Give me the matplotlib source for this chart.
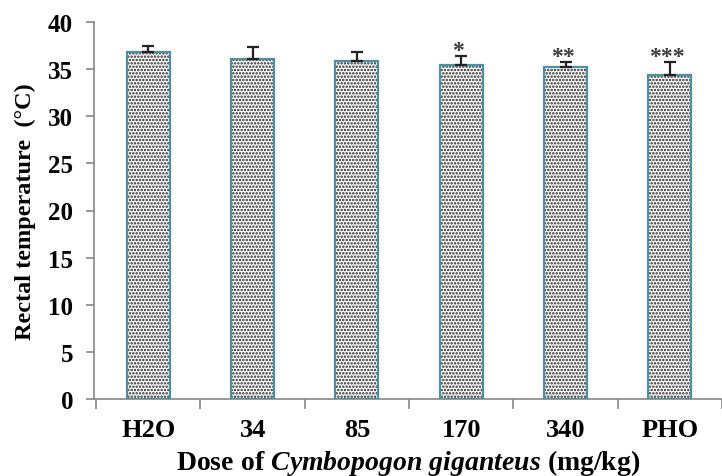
import matplotlib
matplotlib.use('Agg')
import numpy as np
import matplotlib.pyplot as plt

# data
doses = ['H2O', '34', '85', '170', '340', 'PHO']
temps = [36.8, 36.1, 35.9, 35.4, 35.25, 34.4]
errs = [0.7, 1.2, 0.9, 1.0, 0.55, 1.4]
stars = ['', '', '', '*', '**', '***']

plt.rcParams['font.family'] = 'Liberation Serif'
plt.rcParams['font.weight'] = 'bold'
plt.rcParams['mathtext.fontset'] = 'custom'
plt.rcParams['mathtext.rm'] = 'Liberation Serif:bold'
plt.rcParams['mathtext.bf'] = 'Liberation Serif:bold'
plt.rcParams['mathtext.it'] = 'Liberation Serif:italic:bold'
plt.rcParams['hatch.linewidth'] = 1.2

fig = plt.figure(figsize=(7.22, 4.77), dpi=100)
ax = fig.add_axes([94 / 722, 77 / 477, (722 - 94) / 722, 377 / 477])

x = np.arange(len(doses))
w = 0.41

# dotted fill
ax.bar(x, temps, w, color='white', edgecolor='#222222', hatch='.....', linewidth=0, zorder=2)
# teal outline
ax.bar(x, temps, w, fill=False, edgecolor='#4f8fa0', linewidth=1.6, zorder=3)

# one-sided error bars
ax.errorbar(x, temps, yerr=[np.zeros(len(errs)), errs], fmt='none', ecolor='#222222',
            elinewidth=1.6, capsize=4, capthick=1.6, zorder=4)

for xi, t, e, s in zip(x, temps, errs, stars):
    if s:
        ax.text(xi - 0.03, t + e + 0.55, s, ha='center', va='center', fontsize=17,
                color='#3a3a3a')

ax.set_ylim(0, 40)
ax.set_yticks(range(0, 41, 5))
ax.set_xlim(-0.52, 5.43)
ax.set_xticks(x)
ax.set_xticklabels(doses)
ax.set_xticks(np.arange(-0.5, 6, 1), minor=True)
ax.tick_params(axis='x', which='major', length=0, pad=14, labelsize=19)
ax.tick_params(axis='x', which='minor', length=7, color='#888888', width=1.2)
ax.tick_params(axis='y', length=6, color='#888888', width=1.2, pad=9, labelsize=18)

for s in ['top', 'right']:
    ax.spines[s].set_visible(False)
for s in ['left', 'bottom']:
    ax.spines[s].set_color('#888888')
    ax.spines[s].set_linewidth(1.2)

ax.set_ylabel('Rectal temperature  (\u00b0C)', fontsize=17.5, fontweight='bold', labelpad=9)
ax.set_xlabel(r'$\mathbf{Dose\ of}\ \mathit{Cymbopogon\ giganteus}\ \mathbf{(mg/kg)}$',
              fontsize=20, labelpad=4)

plt.savefig('out.png', dpi=100)
plt.close()
